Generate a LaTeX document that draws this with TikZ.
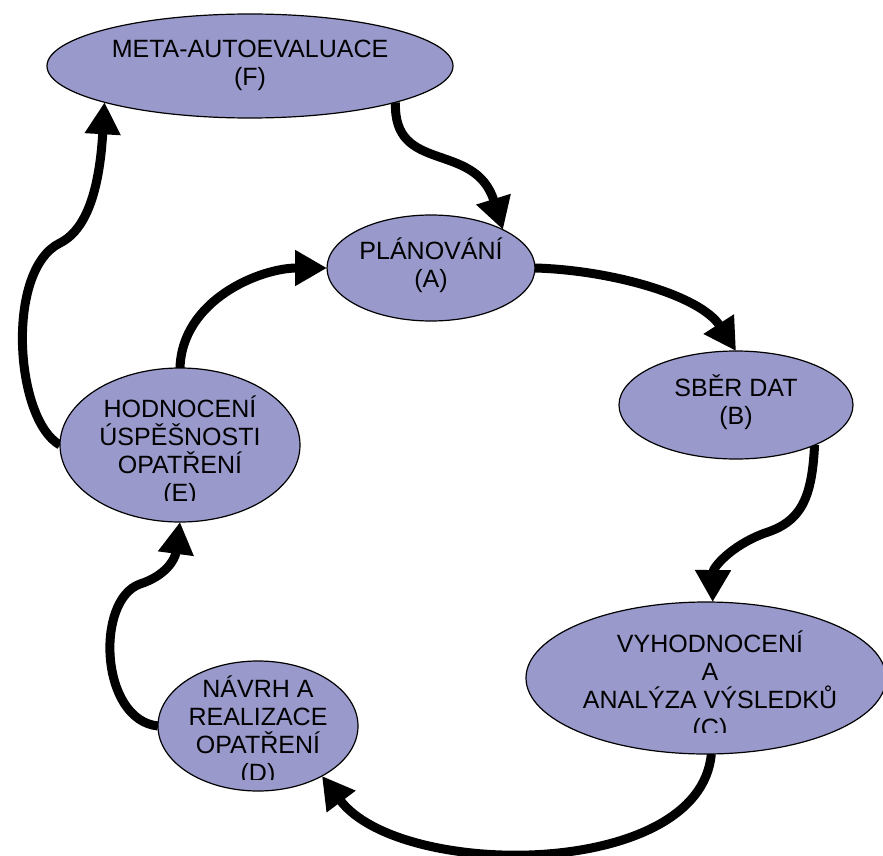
\documentclass[tikz,border=0pt]{standalone}
\usepackage{fontspec}
\setmainfont{Liberation Sans}
\usetikzlibrary{shapes.geometric,arrows.meta,backgrounds}
\definecolor{stagefill}{HTML}{9999CC}

\tikzset{
  stage/.style={ellipse, draw=black, line width=1.2pt, fill=stagefill, inner sep=0pt, outer sep=0pt},
  stagetext/.style={align=center, inner sep=0pt, font=\fontsize{25}{28}\selectfont},
  flow/.style={line width=9pt, -{Triangle[length=32pt,width=34pt]}},
}

\begin{document}
\begin{tikzpicture}[x=1pt,y=-1pt]
\useasboundingbox (0,0) rectangle (883,856);

% Draw the stages of the cycle
\node[stage, minimum width=406pt, minimum height=104pt] (f) at (250,66) {};
\node[stage, minimum width=208pt, minimum height=106pt] (a) at (431,268) {};
\node[stage, minimum width=234pt, minimum height=108pt] (b) at (736,405) {};
\node[stage, minimum width=360pt, minimum height=152pt] (c) at (706,678) {};
\node[stage, minimum width=200pt, minimum height=130pt] (d) at (258,726) {};
\node[stage, minimum width=240pt, minimum height=154pt] (e) at (180,445) {};

% Labels (some are cut off at the bottom)
\node[stagetext] (ftext) at (250,65) {META-AUTOEVALUACE\\(F)};
\node[stagetext] (atext) at (431,265) {PLÁNOVÁNÍ\\(A)};
\node[stagetext] (btext) at (736,402) {SBĚR DAT\\(B)};
\begin{scope}
  \clip (0,0) rectangle (883,732);
  \node[stagetext] (ctext) at (710,686) {VYHODNOCENÍ\\A\\ANALÝZA VÝSLEDKŮ\\(C)};
\end{scope}
\begin{scope}
  \clip (0,0) rectangle (883,779);
  \node[stagetext] (dtext) at (258,731) {NÁVRH A\\REALIZACE\\OPATŘENÍ\\(D)};
\end{scope}
\begin{scope}
  \clip (0,0) rectangle (883,500);
  \node[stagetext] (etext) at (180,451) {HODNOCENÍ\\ÚSPĚŠNOSTI\\OPATŘENÍ\\(E)};
\end{scope}

% Thick arrows between the stages
\begin{pgfonlayer}{background}
\draw[flow] (f.-14.5) .. controls (393,175) and (475,140) .. (a.28);
\draw[flow] (a.0) .. controls (610,270) and (700,295) .. (b.90);
\draw[flow] (b.-27.4) .. controls (812,500) and (800,522) .. (765,533)
  .. controls (730,546) and (713,568) .. (c.85.5);
\draw[flow] (c.-86) .. controls (700,880) and (400,880) .. (d.-38);
\draw[flow] (d.west) .. controls (100,720) and (95,600) .. (140,584)
  .. controls (165,576) and (175,560) .. (e.south);
\draw[flow] (e.north) .. controls (182,300) and (260,268) .. (a.west);
\draw[flow] (e.west) .. controls (15,420) and (5,270) .. (60,243)
  .. controls (90,228) and (100,180) .. (f.194);
\end{pgfonlayer}

\end{tikzpicture}
\end{document}
